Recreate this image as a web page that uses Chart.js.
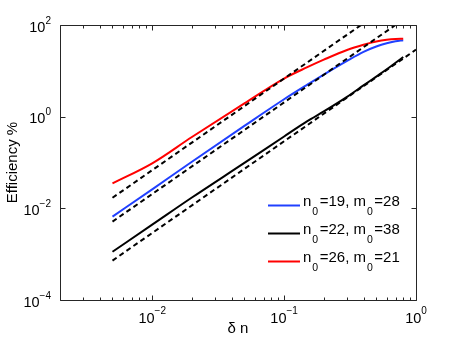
<!DOCTYPE html>
<html>
<head>
<meta charset="utf-8">
<script src="https://cdn.jsdelivr.net/npm/chart.js@4/dist/chart.umd.min.js"></script>
<style>
html,body{margin:0;padding:0;background:#fff;}
canvas{display:block;}
</style>
</head>
<body>
<canvas id="c" width="460" height="346"></canvas>
<script>
// ---- data ----
const xVals     = [0.005, 0.01, 0.02, 0.05, 0.1, 0.15, 0.2, 0.3, 0.4, 0.5, 0.6, 0.7, 0.8];
const blueVals  = [0.0066, 0.026, 0.104, 0.63, 2.4, 5.0, 8.3, 16.5, 26, 34, 40, 44, 46.5];
const blackVals = [0.00113, 0.0044, 0.0172, 0.098, 0.37, 0.8, 1.3, 2.7, 4.8, 7.5, 10.8, 15, 20];
const redVals   = [0.035, 0.096, 0.36, 1.95, 6.8, 12, 17.5, 28.5, 37, 43.5, 47.5, 49.5, 50];
const dashX     = [0.005, 1];
const dash1Vals = [0.017, 680];
const dash2Vals = [0.00513, 205];
const dash3Vals = [0.000725, 29];
const legendN   = ['19', '22', '26'];
const legendM   = ['28', '38', '21'];
const legendColors = ['#2040ff', '#000000', '#ff0000'];
const xTickVals = [0.01, 0.1, 1];
const xTickExp  = ['\u22122', '\u22121', '0'];
const yTickVals = [1e-4, 1e-2, 1, 100];
const yTickExp  = ['\u22124', '\u22122', '0', '2'];
const xTitle = '\u03b4 n';
const yTitle = 'Efficiency %';

const pts = (xs, ys) => xs.map((v, i) => ({x: v, y: ys[i]}));
const FONT = '"Liberation Sans", Arial, Helvetica, sans-serif';

const solid = (label, xs, ys, color, order) => ({
  label, data: pts(xs, ys), borderColor: color, borderWidth: 2,
  pointRadius: 0, fill: false, cubicInterpolationMode: 'monotone', order
});
const dashed = (xs, ys) => ({
  label: 'fit', data: pts(xs, ys), borderColor: '#000', borderWidth: 2,
  borderDash: [5, 3.5], pointRadius: 0, fill: false, tension: 0, order: 0
});

const decor = {
  id: 'decor',
  afterDraw(chart) {
    const {ctx, chartArea: a, scales: {x, y}} = chart;
    ctx.save();
    const L = Math.round(a.left) + 0.5, R = Math.round(a.right) + 0.5;
    const T = Math.round(a.top) + 0.5, B = Math.round(a.bottom) + 0.5;
    ctx.strokeStyle = '#262626';
    ctx.lineWidth = 1;
    ctx.beginPath();
    ctx.rect(L, T, R - L, B - T);
    ctx.stroke();
    // x ticks (major + minor), inside, top and bottom
    ctx.beginPath();
    for (let e = -3; e <= 0; e++) {
      for (let k = 1; k <= 9; k++) {
        const v = k * Math.pow(10, e);
        if (v < x.min - 1e-12 || v > x.max + 1e-12) continue;
        const px = Math.round(x.getPixelForValue(v)) + 0.5;
        const len = k === 1 ? 5 : 3;
        ctx.moveTo(px, B); ctx.lineTo(px, B - len);
        ctx.moveTo(px, T); ctx.lineTo(px, T + len);
      }
    }
    // y ticks major, inside, left and right
    yTickVals.forEach(v => {
      const py = Math.round(y.getPixelForValue(v)) + 0.5;
      ctx.moveTo(L, py); ctx.lineTo(L + 5, py);
      ctx.moveTo(R, py); ctx.lineTo(R - 5, py);
    });
    ctx.stroke();

    ctx.fillStyle = '#000';
    ctx.textBaseline = 'alphabetic';
    const bigF = '14.5px ' + FONT, supF = '10px ' + FONT;
    // x tick labels
    xTickVals.forEach((v, i) => {
      const px = x.getPixelForValue(v);
      ctx.font = bigF; const w1 = ctx.measureText('10').width;
      ctx.font = supF; const w2 = ctx.measureText(xTickExp[i]).width;
      const x0 = px - (w1 + w2) / 2;
      ctx.font = bigF; ctx.textAlign = 'left';
      ctx.fillText('10', x0, a.bottom + 22.5);
      ctx.font = supF;
      ctx.fillText(xTickExp[i], x0 + w1, a.bottom + 13.5);
    });
    // y tick labels
    yTickVals.forEach((v, i) => {
      const py = y.getPixelForValue(v);
      ctx.font = supF; const w2 = ctx.measureText(yTickExp[i]).width;
      ctx.font = bigF; const w1 = ctx.measureText('10').width;
      const xr = a.left - 9;
      ctx.textAlign = 'left';
      ctx.fillText('10', xr - w2 - w1, py + 6.5);
      ctx.font = supF;
      ctx.fillText(yTickExp[i], xr - w2, py - 1.5);
    });
    // axis titles
    ctx.font = '15px ' + FONT;
    ctx.textAlign = 'center';
    ctx.fillText(xTitle, (a.left + a.right) / 2, a.bottom + 33);
    ctx.save();
    ctx.translate(17, (a.top + a.bottom) / 2);
    ctx.rotate(-Math.PI / 2);
    ctx.fillText(yTitle, 0, 0);
    ctx.restore();
    // legend
    const rows = [205.5, 233.5, 261.5];
    const legF = '15px ' + FONT, subF = '10.5px ' + FONT;
    legendN.forEach((n, i) => {
      const yy = rows[i];
      ctx.strokeStyle = legendColors[i];
      ctx.lineWidth = 2;
      ctx.beginPath(); ctx.moveTo(268, yy); ctx.lineTo(300, yy); ctx.stroke();
      ctx.textAlign = 'left';
      let cx = 303;
      const parts = [['n', legF, 0], ['0', subF, 9.5], ['=' + n + ', m', legF, 0], ['0', subF, 9.5], ['=' + legendM[i], legF, 0]];
      parts.forEach(([t, f, dy]) => {
        ctx.font = f;
        if (dy) cx += 1;
        ctx.fillText(t, cx, yy + dy);
        cx += ctx.measureText(t).width + (dy ? 1.5 : 0);
      });
    });
    ctx.restore();
  }
};

new Chart(document.getElementById('c'), {
  type: 'line',
  data: {
    datasets: [
      solid('n0=19, m0=28', xVals, blueVals, legendColors[0], 3),
      solid('n0=22, m0=38', xVals, blackVals, legendColors[1], 2),
      solid('n0=26, m0=21', xVals, redVals, legendColors[2], 1),
      dashed(dashX, dash1Vals),
      dashed(dashX, dash2Vals),
      dashed(dashX, dash3Vals)
    ]
  },
  options: {
    responsive: false,
    animation: false,
    devicePixelRatio: 1,
    layout: {padding: {left: 60, top: 25, right: 44, bottom: 46}},
    plugins: {legend: {display: false}, tooltip: {enabled: false}},
    scales: {
      x: {type: 'logarithmic', min: 0.002, max: 1, display: false},
      y: {type: 'logarithmic', min: 1e-4, max: 100, display: false}
    }
  },
  plugins: [decor]
});
</script>
</body>
</html>
